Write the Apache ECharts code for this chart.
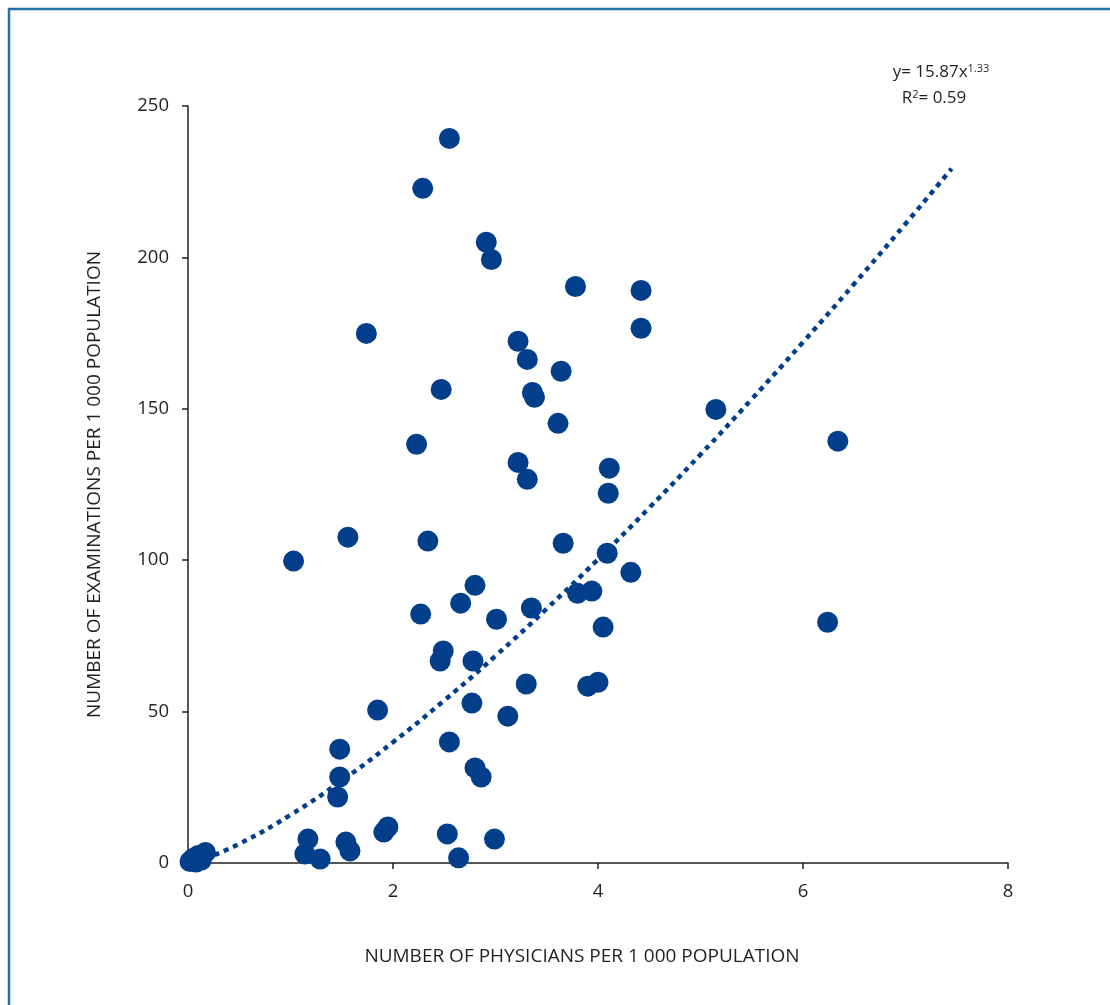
<!DOCTYPE html>
<html>
<head>
<meta charset="utf-8">
<script src="https://cdn.jsdelivr.net/npm/echarts@6/dist/echarts.min.js"></script>
<style>
html,body{margin:0;padding:0;background:#fff;}
#chart{width:1110px;height:1005px;}
</style>
</head>
<body>
<div id="chart"></div>
<script>
// Observed data: [physicians per 1 000, examinations per 1 000]
const countryPoints = [
  [0.02, 0.5], [0.05, 1.5], [0.08, 0.3], [0.10, 2.5], [0.13, 1.0], [0.17, 3.5],
  [1.03, 99.7], [1.14, 3.0], [1.17, 7.9], [1.29, 1.3],
  [1.46, 21.8], [1.48, 28.4], [1.48, 37.6], [1.54, 6.9], [1.58, 4.0], [1.56, 107.6],
  [1.74, 174.9], [1.85, 50.5], [1.91, 10.2], [1.95, 11.9],
  [2.23, 138.3], [2.27, 82.2], [2.29, 222.8], [2.34, 106.3],
  [2.46, 66.7], [2.49, 70.0], [2.47, 156.4], [2.53, 9.6], [2.55, 40.0], [2.55, 239.3],
  [2.64, 1.7], [2.66, 85.8], [2.77, 52.8], [2.78, 66.7], [2.80, 91.7],
  [2.80, 31.4], [2.86, 28.4], [2.91, 205.0], [2.96, 199.3], [2.99, 7.9], [3.01, 80.5],
  [3.12, 48.5], [3.22, 172.3], [3.22, 132.3], [3.30, 59.1], [3.31, 166.3], [3.31, 126.7],
  [3.35, 84.2], [3.36, 155.4], [3.38, 153.8], [3.61, 145.2], [3.64, 162.4], [3.66, 105.6],
  [3.78, 190.4], [3.80, 89.1], [3.90, 58.4], [3.94, 89.8], [4.00, 59.7], [4.05, 77.9],
  [4.09, 102.3], [4.10, 122.1], [4.11, 130.4], [4.32, 96.0],
  [4.42, 189.1], [4.42, 176.6], [5.15, 149.8], [6.24, 79.5], [6.34, 139.3]
];

// Fitted trend line y = 15.87 x^1.33
const trendPoints = [
  [0.17, 1.5], [0.5, 6.3], [1.0, 15.9], [1.5, 27.2], [2.0, 39.9], [2.5, 53.7],
  [3.0, 68.4], [3.5, 84.0], [4.0, 100.3], [4.5, 117.3], [5.0, 134.9],
  [5.5, 153.2], [6.0, 172.0], [6.5, 191.3], [7.0, 211.1], [7.45, 229.3]
];

const xTicks = [0, 2, 4, 6, 8];
const yTicks = [0, 50, 100, 150, 200, 250];
const xTitle = 'NUMBER OF PHYSICIANS PER 1 000 POPULATION';
const yTitle = 'NUMBER OF EXAMINATIONS PER 1 000 POPULATION';
const eqLine1 = 'y= 15.87x{sup|1.33}';
const eqLine2 = 'R{sup|2}= 0.59';

const FONT = '"Open Sans", "DejaVu Sans", sans-serif';
const INK = '#231f20';
const BLUE = '#023e8a';

const chart = echarts.init(document.getElementById('chart'), null, {renderer: 'canvas'});
chart.setOption({
  backgroundColor: '#ffffff',
  animation: false,
  grid: {left: 188, right: 102, top: 106, bottom: 142, containLabel: false},
  xAxis: {
    type: 'value', min: xTicks[0], max: xTicks[xTicks.length - 1], interval: 2,
    name: xTitle, nameLocation: 'middle', nameGap: 84,
    nameTextStyle: {fontFamily: FONT, fontSize: 19, color: INK, padding: [0, 32, 0, 0]},
    axisLine: {show: true, onZero: false, lineStyle: {color: INK, width: 1.5}},
    axisTick: {show: true, inside: false, length: 6, lineStyle: {color: INK, width: 1.5}},
    axisLabel: {fontFamily: FONT, fontSize: 18.5, color: INK, margin: 19},
    splitLine: {show: false}
  },
  yAxis: {
    type: 'value', min: yTicks[0], max: yTicks[yTicks.length - 1], interval: 50,
    name: yTitle, nameLocation: 'middle', nameGap: 84, nameRotate: 90,
    nameTextStyle: {fontFamily: FONT, fontSize: 19, color: INK},
    axisLine: {show: true, onZero: false, lineStyle: {color: INK, width: 1.5}},
    axisTick: {show: true, inside: false, length: 6, lineStyle: {color: INK, width: 1.5}},
    axisLabel: {fontFamily: FONT, fontSize: 18.5, color: INK, margin: 19},
    splitLine: {show: false}
  },
  series: [
    {
      type: 'line', data: trendPoints, smooth: true, symbol: 'none', silent: true, z: 1,
      lineStyle: {color: BLUE, width: 4.5, type: [5, 5]}
    },
    {
      type: 'scatter', data: countryPoints, symbol: 'circle', symbolSize: 21, z: 2,
      itemStyle: {color: BLUE, opacity: 1}
    }
  ],
  graphic: [
    {type: 'rect', shape: {x: 9, y: 9, width: 1120, height: 1020}, silent: true, z: 100,
     style: {fill: 'none', stroke: '#2272a8', lineWidth: 2.5}},
    {type: 'text', x: 941, y: 72, z: 100, silent: true,
     style: {text: eqLine1, align: 'center', verticalAlign: 'middle', fill: INK,
       font: '17px ' + FONT,
       rich: {sup: {fontSize: 11, lineHeight: 11, verticalAlign: 'top', fontFamily: FONT, fill: INK}}}},
    {type: 'text', x: 934, y: 98, z: 100, silent: true,
     style: {text: eqLine2, align: 'center', verticalAlign: 'middle', fill: INK,
       font: '17px ' + FONT,
       rich: {sup: {fontSize: 11, lineHeight: 11, verticalAlign: 'top', fontFamily: FONT, fill: INK}}}}
  ]
});
</script>
</body>
</html>
